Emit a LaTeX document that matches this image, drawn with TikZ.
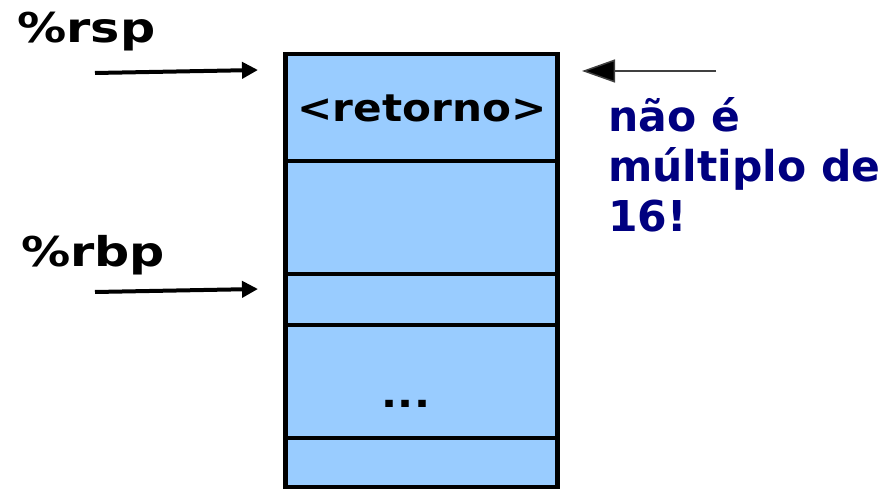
\documentclass[tikz,border=0pt]{standalone}
\usepackage{fontspec}
\setmainfont{DejaVu Sans}
\newfontfamily\widefont[FakeStretch=1.2]{DejaVu Sans}
\newfontfamily\cellfont[FakeStretch=1.11]{DejaVu Sans}
\usetikzlibrary{arrows.meta}
\definecolor{cellblue}{HTML}{99CCFF}
\definecolor{notecol}{HTML}{000080}
\begin{document}
\begin{tikzpicture}[x=1pt,y=-1pt,
  cell/.style={draw=black,line width=4.5pt,fill=cellblue},
  divider/.style={line width=4.5pt},
  reglabel/.style={font=\widefont\bfseries\fontsize{41}{48}\selectfont,anchor=base west,inner sep=0pt},
  celltext/.style={font=\cellfont\bfseries\fontsize{38}{40}\selectfont,anchor=base,inner sep=0pt},
  regarrow/.style={line width=4pt,-{Triangle[length=16pt,width=16pt]}},
  notearrow/.style={line width=1.5pt,draw=black!75,-{Triangle[length=33pt,width=23pt,fill=black]}}]
\useasboundingbox (0,0) rectangle (895,489);
% stack
\path[cell] (285.5,54) rectangle (557.5,487);
\draw[divider] (285.5,161) -- (557.5,161);
\draw[divider] (285.5,274) -- (557.5,274);
\draw[divider] (285.5,325) -- (557.5,325);
\draw[divider] (285.5,438) -- (557.5,438);
\node[celltext] (ret) at (422,122) {<retorno>};
\node[celltext] (dots) at (406,407) {...};
\coordinate (rsptip) at (258,70);
\coordinate (rbptip) at (258,289);
\node[reglabel] (rsp) at (17,43) {\%rsp};
\node[reglabel] (rbp) at (21,267) {\%rbp};
\coordinate (rspstart) at (95,73);
\coordinate (rbpstart) at (95,292);
\draw[regarrow] (rspstart) -- (rsptip);
\draw[regarrow] (rbpstart) -- (rbptip);
\coordinate (notestart) at (716,71);
\coordinate (notetip) at (582,71);
\draw[notearrow] (notestart) -- (notetip);
\node[font=\bfseries\fontsize{42.5}{50}\selectfont,text=notecol,anchor=base west,align=left,inner sep=0pt] (note) at (608,232) {não é\\múltiplo de\\16!};
\end{tikzpicture}
\end{document}
